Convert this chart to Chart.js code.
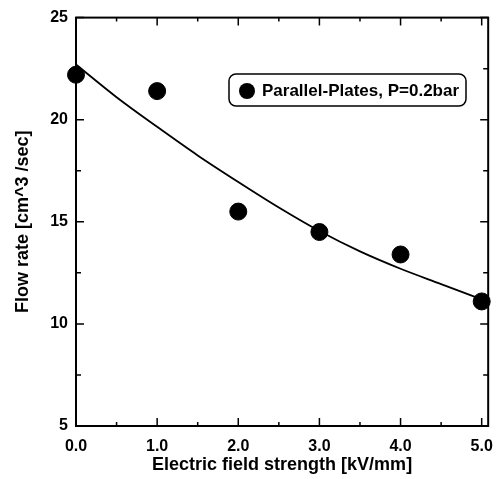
<!DOCTYPE html>
<html>
<head>
<meta charset="utf-8">
<script src="https://cdn.jsdelivr.net/npm/chart.js@4.4.1/dist/chart.umd.min.js"></script>
<style>
  html, body { margin: 0; padding: 0; background: #fff; }
  #wrap { width: 504px; height: 479px; }
</style>
</head>
<body>
<div id="wrap"><canvas id="c" width="504" height="479"></canvas></div>
<script>
// Data
const fieldStrength = [0, 1, 2, 3, 4, 5];
const flowRate = [22.2, 21.4, 15.5, 14.5, 13.4, 11.1];
const fitX = [0, 0.5, 1, 1.5, 2, 2.5, 3, 3.5, 4, 4.5, 5];
const fitY = [22.7, 21.1, 19.65, 18.25, 16.95, 15.7, 14.55, 13.55, 12.7, 11.95, 11.2];
const xTicks = [0, 1, 2, 3, 4, 5];
const xMinorTicks = [0.5, 1.5, 2.5, 3.5, 4.5];
const yTicks = [5, 10, 15, 20, 25];
const yMinorTicks = [7.5, 12.5, 17.5, 22.5];
const seriesLabel = 'Parallel-Plates, P=0.2bar';
const xTitle = 'Electric field strength [kV/mm]';
const yTitle = 'Flow rate [cm^3 /sec]';

const FONT = "'Liberation Sans', Arial, Helvetica, sans-serif";

const framePlugin = {
  id: 'frame',
  beforeDatasetsDraw(chart) {
    const ctx = chart.ctx;
    const a = chart.chartArea;
    const xs = chart.scales.x, ys = chart.scales.y;
    ctx.save();
    ctx.strokeStyle = '#000';
    ctx.lineWidth = 2;
    ctx.strokeRect(a.left, a.top, a.right - a.left, a.bottom - a.top);
    ctx.lineWidth = 1.5;
    ctx.beginPath();
    const major = 8, minor = 4;
    xTicks.forEach(v => {
      const px = xs.getPixelForValue(v);
      ctx.moveTo(px, a.bottom); ctx.lineTo(px, a.bottom - major);
      ctx.moveTo(px, a.top); ctx.lineTo(px, a.top + major);
    });
    xMinorTicks.forEach(v => {
      const px = xs.getPixelForValue(v);
      ctx.moveTo(px, a.bottom); ctx.lineTo(px, a.bottom - minor);
      ctx.moveTo(px, a.top); ctx.lineTo(px, a.top + minor);
    });
    yTicks.forEach(v => {
      const py = ys.getPixelForValue(v);
      ctx.moveTo(a.left, py); ctx.lineTo(a.left + major, py);
      ctx.moveTo(a.right, py); ctx.lineTo(a.right - major, py);
    });
    yMinorTicks.forEach(v => {
      const py = ys.getPixelForValue(v);
      ctx.moveTo(a.left, py); ctx.lineTo(a.left + minor + 1, py);
      ctx.moveTo(a.right, py); ctx.lineTo(a.right - minor - 1, py);
    });
    ctx.stroke();
    ctx.restore();
  },
  afterDatasetsDraw(chart) {
    const ctx = chart.ctx;
    ctx.save();
    ctx.strokeStyle = '#000';
    // legend box
    const bx = 229, by = 74, bw = 237, bh = 32, r = 7;
    ctx.lineWidth = 1.5;
    ctx.fillStyle = '#fff';
    ctx.beginPath();
    ctx.roundRect(bx, by, bw, bh, r);
    ctx.fill();
    ctx.stroke();
    ctx.fillStyle = '#000';
    ctx.beginPath();
    ctx.arc(bx + 18, by + bh / 2 + 1, 8, 0, Math.PI * 2);
    ctx.fill();
    ctx.font = 'bold 17px ' + FONT;
    ctx.textBaseline = 'middle';
    ctx.textAlign = 'left';
    ctx.fillText(chart.data.datasets[0].label, bx + 33, by + bh / 2 + 1);
    ctx.restore();
  }
};

new Chart(document.getElementById('c'), {
  type: 'scatter',
  data: {
    datasets: [
      {
        label: seriesLabel,
        data: fieldStrength.map((x, i) => ({ x: x, y: flowRate[i] })),
        backgroundColor: '#000',
        borderColor: '#000',
        pointRadius: 8.5,
        pointHoverRadius: 8.5,
        showLine: false,
        clip: false,
        order: 0
      },
      {
        label: 'fit',
        data: fitX.map((x, i) => ({ x: x, y: fitY[i] })),
        borderColor: '#000',
        borderWidth: 1.8,
        pointRadius: 0,
        showLine: true,
        fill: false,
        cubicInterpolationMode: 'monotone',
        order: 1
      }
    ]
  },
  options: {
    responsive: false,
    animation: false,
    events: [],
    layout: { padding: { top: 13, right: 12, left: 0, bottom: 0 } },
    plugins: { legend: { display: false }, tooltip: { enabled: false } },
    scales: {
      x: {
        type: 'linear',
        min: 0,
        max: 5.08,
        afterBuildTicks: s => { s.ticks = xTicks.map(v => ({ value: v })); },
        afterFit: s => { s.height = 53; },
        grid: { display: false, drawTicks: false },
        border: { display: false },
        ticks: {
          padding: 11,
          color: '#000',
          font: { family: FONT, size: 16, weight: 'bold' },
          maxRotation: 0,
          callback: v => Number(v).toFixed(1)
        },
        title: {
          display: true,
          text: xTitle,
          color: '#000',
          font: { family: FONT, size: 18, weight: 'bold' },
          padding: { top: 0, bottom: 3 }
        }
      },
      y: {
        type: 'linear',
        min: 5,
        max: 25,
        afterBuildTicks: s => { s.ticks = yTicks.map(v => ({ value: v })); },
        afterFit: s => { s.width = 76; },
        grid: { display: false, drawTicks: false },
        border: { display: false },
        ticks: {
          padding: 8,
          color: '#000',
          font: { family: FONT, size: 16, weight: 'bold' },
          callback: v => String(v)
        },
        title: {
          display: true,
          text: yTitle,
          color: '#000',
          font: { family: FONT, size: 18, weight: 'bold' },
          padding: { top: 12, bottom: 0 }
        }
      }
    }
  },
  plugins: [framePlugin]
});
</script>
</body>
</html>
